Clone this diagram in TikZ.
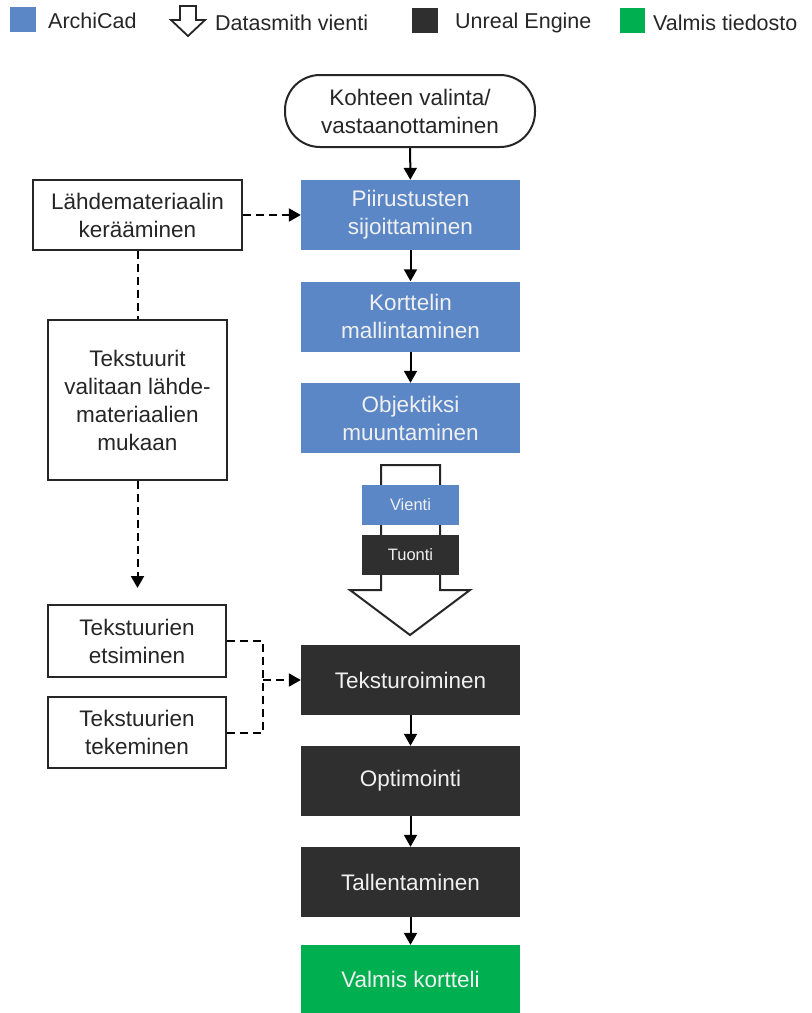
\documentclass[tikz,border=0pt]{standalone}
\usepackage{fontspec}
\setmainfont{Liberation Sans}
\usetikzlibrary{arrows.meta}
\definecolor{acblue}{HTML}{5B87C7}
\definecolor{uedark}{HTML}{2F2F2F}
\definecolor{vgreen}{HTML}{00B050}
\definecolor{lineg}{HTML}{262626}
\tikzset{
  txt/.style={font=\fontsize{22.5}{28}\selectfont, align=center, inner sep=0pt},
  fillbox/.style={txt, text=white!94!black, minimum width=219pt, minimum height=70pt},
  bluebox/.style={fillbox, fill=acblue},
  darkbox/.style={fillbox, fill=uedark},
  greenbox/.style={fillbox, fill=vgreen},
  whitebox/.style={txt, draw=lineg, line width=2pt, fill=white, text=black!85},
  smallbox/.style={font=\fontsize{16.5}{18}\selectfont, inner sep=0pt, text=white!94!black, minimum width=97pt, minimum height=40pt},
  flow/.style={draw=black, line width=2pt, -{Triangle[length=12pt,width=13pt]}},
  dflow/.style={draw=black, line width=2pt, dash pattern=on 8pt off 5pt},
  legtxt/.style={font=\fontsize{21.5}{24}\selectfont, inner sep=0pt, anchor=base west, text=black!85},
}
\begin{document}
\begin{tikzpicture}[x=1pt,y=-1pt]
\useasboundingbox (0,0) rectangle (812,1013);
% legend
\fill[acblue] (10,7) rectangle (36,32);
\node[legtxt] (l1) at (48,28) {ArchiCad};
\draw[lineg, line width=1.8pt, fill=white, line join=miter] (180,6) -- (196,6) -- (196,20) -- (205,20) -- (188,36) -- (171,20) -- (180,20) -- cycle;
\node[legtxt] (l2) at (215,30) {Datasmith vienti};
\fill[uedark] (412,8) rectangle (438,33);
\node[legtxt] (l3) at (455,28) {Unreal Engine};
\fill[vgreen] (620,8) rectangle (645,33);
\node[legtxt] (l4) at (653,30) {Valmis tiedosto};
% hollow export arrow
\draw[lineg, line width=2pt, fill=white, line join=miter] (381,465) -- (440,465) -- (440,590) -- (470,590) -- (410,635) -- (350,590) -- (381,590) -- cycle;
% main column
\node[whitebox, minimum width=250pt, minimum height=72pt, rounded corners=35pt] (koh) at (410,111) {Kohteen valinta/\\vastaanottaminen};
\node[bluebox] (piir) at (410.5,215) {Piirustusten\\sijoittaminen};
\node[bluebox] (kort) at (410.5,316.5) {Korttelin\\mallintaminen};
\node[bluebox] (obj) at (410.5,418) {Objektiksi\\muuntaminen};
\node[smallbox, fill=acblue] (vie) at (410.5,505) {Vienti};
\node[smallbox, fill=uedark] (tuo) at (410.5,555) {Tuonti};
\node[darkbox] (tex) at (410.5,680) {Teksturoiminen};
\node[darkbox] (opt) at (410.5,781) {Optimointi};
\node[darkbox] (tal) at (410.5,882) {Tallentaminen};
\node[greenbox, minimum height=68pt] (val) at (410.5,979) {Valmis kortteli};
% left column
\node[whitebox, minimum width=209pt, minimum height=70pt] (lah) at (137.5,215) {Lähdemateriaalin\\kerääminen};
\node[whitebox, minimum width=179pt, minimum height=160pt] (tek) at (137.5,400) {Tekstuurit\\valitaan lähde-\\materiaalien\\mukaan};
\node[whitebox, minimum width=178pt, minimum height=72pt] (ets) at (137,641) {Tekstuurien\\etsiminen};
\node[whitebox, minimum width=178pt, minimum height=71pt] (tk) at (137,732.5) {Tekstuurien\\tekeminen};
\coordinate (tend) at (137.5,588);
\coordinate (jx) at (263,680);
% connectors
\draw[flow] (koh) -- (piir);
\draw[flow] (piir) -- (kort);
\draw[flow] (kort) -- (obj);
\draw[flow] (tex) -- (opt);
\draw[flow] (opt) -- (tal);
\draw[flow] (tal) -- (val);
\draw[dflow, -{Triangle[length=12pt,width=13pt]}] (lah.east) -- (piir.west);
\draw[dflow] (lah.south) -- (tek.north);
\draw[dflow, -{Triangle[length=12pt,width=13pt]}] (tek.south) -- (tend);
\draw[dflow] (ets.east) -| (jx) |- (tk.east);
\draw[dflow, -{Triangle[length=12pt,width=13pt]}] (jx) -- (tex.west);
\end{tikzpicture}
\end{document}
